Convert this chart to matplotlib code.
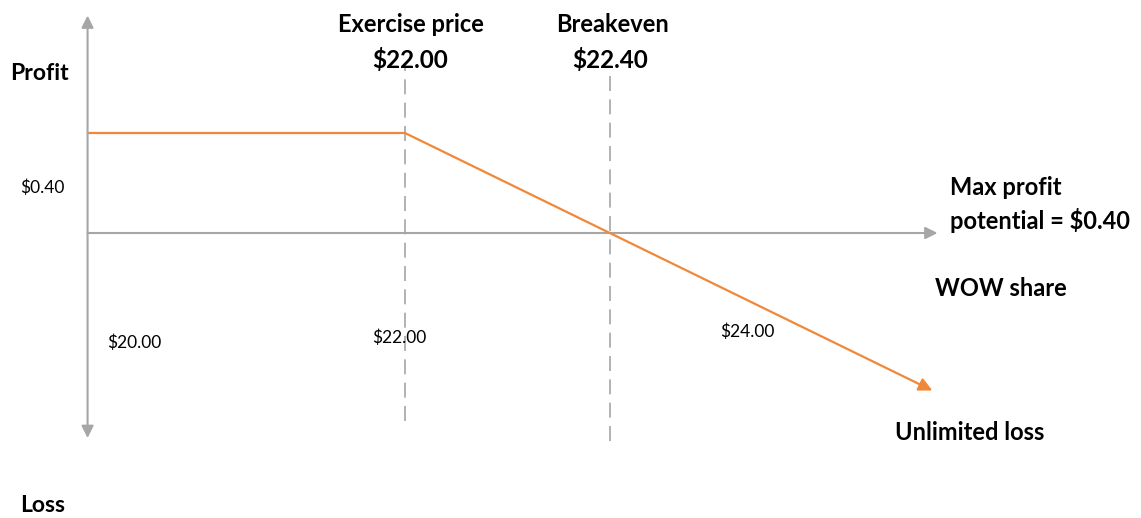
"""Short call payoff diagram (WOW share)."""
import matplotlib.pyplot as plt

strike = 22.00
premium = 0.40
breakeven = 22.40

# payoff line: share price vs profit
prices = [21.38, 22.00, 23.03]
profits = [0.40, 0.40, -0.63]

price_labels = ["$20.00", "$22.00", "$24.00"]

W, H = 1141, 518
fig = plt.figure(figsize=(W / 100, H / 100), dpi=100)
ax = fig.add_axes([0, 0, 1, 1])
# 512 px per $ on x, 250 px per $ on y
ax.set_xlim(strike - 405 / 512, strike + (W - 405) / 512)
ax.set_ylim(-(H - 233) / 250, 233 / 250)
ax.axis('off')

grey = '#a6a6a6'
orange = '#f0883a'
fam = ['Lato', 'DejaVu Sans']


def px(x, y):
    return x / W, 1 - y / H


# axes arrows
ax.annotate('', xy=(prices[0], 0.87), xytext=(prices[0], -0.82),
            arrowprops=dict(arrowstyle='<|-|>', color=grey, lw=1.5,
                            mutation_scale=18, shrinkA=0, shrinkB=0))
ax.annotate('', xy=(23.04, 0), xytext=(prices[0], 0),
            arrowprops=dict(arrowstyle='-|>', color=grey, lw=1.5,
                            mutation_scale=18, shrinkA=0, shrinkB=0))

# dashed guides
ax.vlines(strike, -0.75, 0.67, colors=grey, linestyles=(0, (9, 5)), lw=1.2)
ax.vlines(breakeven, -0.83, 0.67, colors=grey, linestyles=(0, (9, 5)), lw=1.2)

# payoff
ax.plot(prices[:2], profits[:2], color=orange, lw=1.6)
ax.annotate('', xy=(prices[2], profits[2]), xytext=(prices[1], profits[1]),
            arrowprops=dict(arrowstyle='-|>', color=orange, lw=1.6,
                            mutation_scale=20, shrinkA=0, shrinkB=0))

bold = dict(family=fam, weight='bold', transform=ax.transAxes)
norm = dict(family=fam, transform=ax.transAxes, fontsize=12.5)

ax.text(*px(411, 25), "Exercise price", ha='center', va='center', fontsize=17, **bold)
ax.text(*px(410, 60), f"${strike:.2f}", ha='center', va='center', fontsize=17.5, **bold)
ax.text(*px(612, 25), "Breakeven", ha='center', va='center', fontsize=17, **bold)
ax.text(*px(610, 60), f"${breakeven:.2f}", ha='center', va='center', fontsize=17.5, **bold)
ax.text(*px(10, 73), "Profit", ha='left', va='center', fontsize=16.5, **bold)
ax.text(*px(20, 506), "Loss", ha='left', va='center', fontsize=16.5, **bold)
ax.text(*px(950, 187), "Max profit", ha='left', va='center', fontsize=17, **bold)
ax.text(*px(950, 221), f"potential = ${premium:.2f}", ha='left', va='center', fontsize=17, **bold)
ax.text(*px(935, 289), "WOW share", ha='left', va='center', fontsize=17, **bold)
ax.text(*px(895, 432), "Unlimited loss", ha='left', va='center', fontsize=17, **bold)

ax.text(*px(20, 188), f"${premium:.2f}", ha='left', va='center', **norm)
for lbl, (x, y) in zip(price_labels, [(107, 343), (372, 338), (720, 332)]):
    ax.text(*px(x, y), lbl, ha='left', va='center', **norm)

fig.savefig('out.png', dpi=100)
